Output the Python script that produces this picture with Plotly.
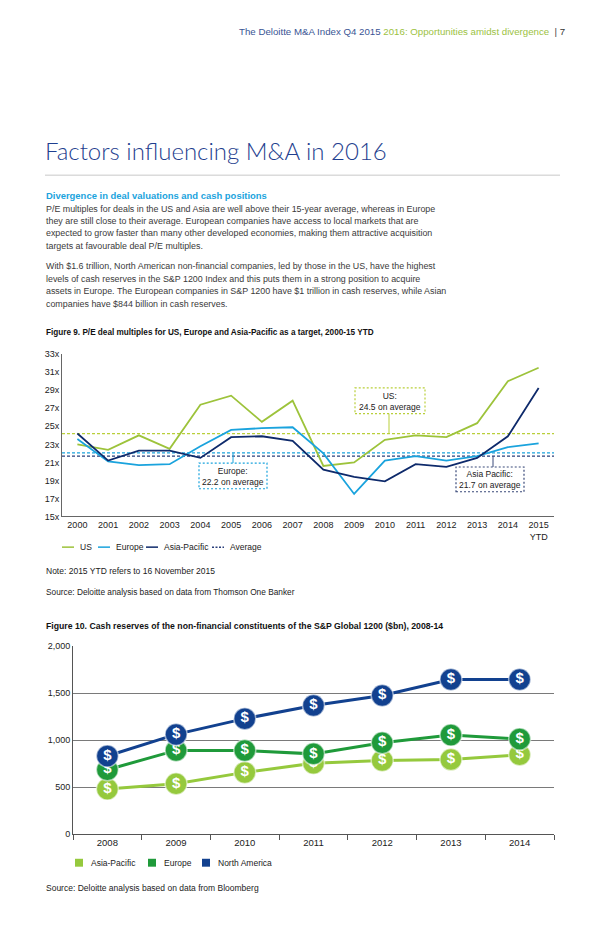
import plotly.graph_objects as go

W, H = 600, 935
def px(x): return x / W
def py(y): return 1 - y / H

FONT = "Liberation Sans, Arial, sans-serif"

# ---------------- Data: Figure 9 ----------------
years9 = ["2000", "2001", "2002", "2003", "2004", "2005", "2006", "2007",
          "2008", "2009", "2010", "2011", "2012", "2013", "2014", "2015"]
year9_labels = years9[:-1] + ["2015<br>YTD"]
us_pe = [23.0, 22.4, 24.0, 22.5, 27.4, 28.4, 25.5, 27.85, 20.6, 21.0, 23.5, 24.0, 23.8, 25.35, 30.0, 31.5]
europe_pe = [23.6, 21.1, 20.7, 20.8, 22.8, 24.6, 24.8, 24.9, 22.0, 17.5, 21.2, 21.7, 21.2, 21.7, 22.7, 23.1]
asia_pe = [24.2, 21.2, 22.3, 22.3, 21.5, 23.8, 23.9, 23.4, 20.2, 19.4, 18.9, 20.8, 20.5, 21.5, 23.9, 29.25]
avg_lines = {"US": 24.2, "Europe": 22.05, "Asia-Pacific": 21.7}
y9_ticks = [15, 17, 19, 21, 23, 25, 27, 29, 31, 33]

# ---------------- Data: Figure 10 ----------------
years10 = ["2008", "2009", "2010", "2011", "2012", "2013", "2014"]
asia_cash = [480, 535, 656, 754, 782, 792, 844]
europe_cash = [684, 890, 888, 853, 972, 1053, 1010]
na_cash = [830, 1060, 1228, 1368, 1474, 1645, 1645]
y10_ticks = [0, 500, 1000, 1500, 2000]

C_US = "#9DC33B"
C_EU = "#1AA3DD"
C_AP = "#0E2A6B"
C10_AP = "#95C93D"
C10_EU = "#1F9A3A"
C10_NA = "#12418F"

fig = go.Figure()

# Figure 9 traces
xi = list(range(len(years9)))
for name, val, col in [("US", avg_lines["US"], "#B9CF3A"), ("Europe", avg_lines["Europe"], C_EU),
                       ("Asia-Pacific", avg_lines["Asia-Pacific"], "#2A3F7A")]:
    fig.add_trace(go.Scatter(x=[-0.5, 15.5], y=[val, val], mode="lines",
                             line=dict(color=col, width=1.3, dash="3px,2px"),
                             xaxis="x", yaxis="y", showlegend=False, hoverinfo="skip"))
for name, vals, col in [("US", us_pe, C_US), ("Europe", europe_pe, C_EU), ("Asia-Pacific", asia_pe, C_AP)]:
    fig.add_trace(go.Scatter(x=xi, y=vals, mode="lines", name=name,
                             line=dict(color=col, width=1.8),
                             xaxis="x", yaxis="y", showlegend=False))

# Figure 10 traces
for name, vals, col in [("Asia-Pacific", asia_cash, C10_AP), ("Europe", europe_cash, C10_EU),
                        ("North America", na_cash, C10_NA)]:
    fig.add_trace(go.Scatter(x=years10, y=vals, mode="lines+markers+text", name=name,
                             text=["$"] * len(vals), textposition="middle center",
                             textfont=dict(color="white", size=15, family=FONT, weight="bold"),
                             line=dict(color=col, width=3),
                             marker=dict(color=col, size=22, line=dict(color="rgba(255,255,255,0.55)", width=1.5)),
                             xaxis="x2", yaxis="y2", showlegend=False, cliponaxis=False))

axis_font = dict(family=FONT, size=9, color="#222")
fig.update_layout(
    width=W, height=H, autosize=False,
    margin=dict(l=0, r=0, t=0, b=0),
    paper_bgcolor="white", plot_bgcolor="white",
    font=dict(family=FONT, color="#333"),
    xaxis=dict(domain=[px(62), px(554)], range=[-0.5, 15.5], tickvals=xi, ticktext=year9_labels,
               showgrid=False, zeroline=False, showline=True, linecolor="#666", linewidth=1,
               ticks="", tickfont=axis_font, anchor="y"),
    yaxis=dict(domain=[py(517), py(353)], range=[15, 33], tickvals=y9_ticks,
               ticktext=[f"{v}x" for v in y9_ticks],
               showgrid=False, zeroline=False, showline=True, linecolor="#666", linewidth=1,
               ticks="", tickfont=axis_font, anchor="x"),
    xaxis2=dict(domain=[px(73), px(554)], type="category", range=[-0.5, 6.5],
                showgrid=False, zeroline=False, showline=True, linecolor="#555", linewidth=1,
                ticks="outside", tickson="boundaries", ticklen=5, tickcolor="#555",
                tickfont=dict(family=FONT, size=9.5, color="#222"), anchor="y2"),
    yaxis2=dict(domain=[py(838), py(648)], range=[0, 2000], tickvals=y10_ticks,
                ticktext=[f"{v:,}" for v in y10_ticks],
                showgrid=True, gridcolor="#7a7a7a", gridwidth=1, zeroline=False,
                showline=True, linecolor="#555", linewidth=1, ticks="",
                tickfont=axis_font, anchor="x2"),
)

ann = []
shapes = []

def text(x, y, s, size=9.5, color="#333", anchor="left", bold=False, vanchor="middle", family=FONT, weight=None):
    ann.append(dict(x=px(x), y=py(y), xref="paper", yref="paper", text=s, showarrow=False,
                    xanchor=anchor, yanchor=vanchor,
                    font=dict(family=family, size=size, color=color,
                              weight=weight if weight is not None else ("bold" if bold else "normal"))))

# Header
text(567, 27, "<span style='color:#3a5594'>The Deloitte M&amp;A Index Q4 2015</span> "
              "<span style='color:#9CC23F'>2016: Opportunities amidst divergence</span>"
              "<span style='color:#444'>  |</span><span style='color:#333'> 7</span>",
     size=9.7, anchor="right")

# Title
text(43, 147, "Factors influencing M&amp;A in 2016", size=24, color="#1F3F8F",
     family="Lato, Liberation Sans, sans-serif", weight=300)
shapes.append(dict(type="line", xref="paper", yref="paper", x0=px(45), x1=px(560), y0=py(172), y1=py(172),
                   line=dict(color="#c8c8c8", width=1)))

text(44, 193, "Divergence in deal valuations and cash positions", size=9.45, color="#1AA3DD", bold=True)
p1 = ["P/E multiples for deals in the US and Asia are well above their 15-year average, whereas in Europe",
      "they are still close to their average. European companies have access to local markets that are",
      "expected to grow faster than many other developed economies, making them attractive acquisition",
      "targets at favourable deal P/E multiples."]
for i, line in enumerate(p1):
    text(44, 206 + i * 12.4, line, size=8.9, color="#3a3a3a")
p2 = ["With $1.6 trillion, North American non-financial companies, led by those in the US, have the highest",
      "levels of cash reserves in the S&amp;P 1200 Index and this puts them in a strong position to acquire",
      "assets in Europe. The European companies in S&amp;P 1200 have $1 trillion in cash reserves, while Asian",
      "companies have $844 billion in cash reserves."]
for i, line in enumerate(p2):
    text(44, 264 + i * 12.6, line, size=8.9, color="#3a3a3a")

text(44, 331, "Figure 9. P/E deal multiples for US, Europe and Asia-Pacific as a target, 2000-15 YTD",
     size=8.2, color="#111", bold=True)

# Figure 9 callout boxes
boxes = [
    (355, 425, 387, 413, "US:<br>24.5 on average", "#B9CF3A", 389, 413, 433),
    (199, 267, 463, 489, "Europe:<br>22.2 on average", C_EU, 233, 453, 463),
    (456, 524, 467, 492, "Asia Pacific:<br>21.7 on average", "#3a4a7a", 493, 456, 467),
]
for x0, x1, y0, y1, s, col, cx, cy0, cy1 in boxes:
    shapes.append(dict(type="rect", xref="paper", yref="paper", x0=px(x0), x1=px(x1), y0=py(y1), y1=py(y0),
                       line=dict(color=col, width=1.2, dash="2px,2px"), fillcolor="white"))
    shapes.append(dict(type="line", xref="paper", yref="paper", x0=px(cx), x1=px(cx), y0=py(cy0), y1=py(cy1),
                       line=dict(color=col, width=1)))
    text((x0 + x1) / 2, (y0 + y1) / 2 + 0.5, s, size=8.5, color="#222", anchor="center")

# Figure 9 legend
leg9 = [(62, 74, C_US, "solid", "US"), (98, 110, C_EU, "solid", "Europe"),
        (146, 158, C_AP, "solid", "Asia-Pacific"), (212, 224, "#2A3F7A", "2px,1.5px", "Average")]
for x0, x1, col, dash, lab in leg9:
    shapes.append(dict(type="line", xref="paper", yref="paper", x0=px(x0), x1=px(x1), y0=py(548), y1=py(548),
                       line=dict(color=col, width=1.5, dash=dash)))
    text(x1 + 4, 548, lab, size=8.5, color="#222")

text(44, 572, "Note: 2015 YTD refers to 16 November 2015", size=8.5, color="#222")
text(44, 593, "Source: Deloitte analysis based on data from Thomson One Banker", size=8.3, color="#222")
text(44, 628, "Figure 10. Cash reserves of the non-financial constituents of the S&amp;P Global 1200 ($bn), 2008-14",
     size=8.7, color="#111", bold=True)

# Figure 10 legend
leg10 = [(79, C10_AP, "Asia-Pacific"), (152, C10_EU, "Europe"), (206, C10_NA, "North America")]
for x, col, lab in leg10:
    shapes.append(dict(type="rect", xref="paper", yref="paper", x0=px(x - 4), x1=px(x + 4),
                       y0=py(871), y1=py(863), line=dict(width=0), fillcolor=col))
    text(x + 10, 867, lab, size=8.5, color="#222")

text(44, 893, "Source: Deloitte analysis based on data from Bloomberg", size=8.5, color="#222")

fig.update_layout(annotations=ann, shapes=shapes)
fig.write_html("out.html", config={"displayModeBar": False},
               post_script="document.body.style.margin='0';document.body.style.overflow='hidden';")
